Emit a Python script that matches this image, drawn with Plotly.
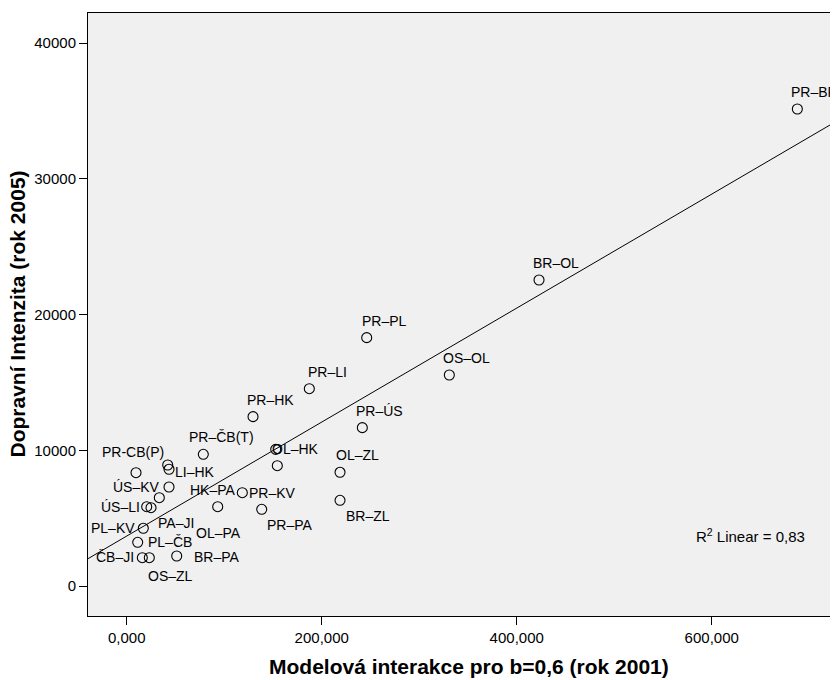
import numpy as np
import plotly.graph_objects as go

# ---- data ----
pair_labels = ["PR–BR", "BR–OL", "PR–PL", "OS–OL", "PR–LI", "PR–HK", "PR–ÚS",
               "PR–ČB(T)", "", "OL–HK", "OL–ZL", "BR–ZL", "PR-CB(P)", "",
               "LI–HK", "ÚS–KV", "OL–PA", "ÚS–LI", "PA–JI", "HK–PA", "PL–KV",
               "PL–ČB", "ČB–JI", "OS–ZL", "BR–PA", "PR–KV", "PR–PA"]
model_2001 = [687800, 422870, 246150, 330870, 187280, 129540, 241640,
              78560, 152820, 154460, 218770, 218770, 9540, 42050,
              43380, 43380, 33440, 20510, 24920, 93330, 17030,
              11280, 16000, 23180, 51280, 118560, 138460]
traffic_2005 = [35150, 22550, 18300, 15550, 14540, 12480, 11670,
                9705, 10070, 8865, 8380, 6315, 8350, 8917,
                8600, 7295, 6507, 5844, 5770, 5844, 4252,
                3220, 2085, 2085, 2211, 6875, 5652]

x_tickvals = [0, 200000, 400000, 600000]
x_ticktext = ["0,000", "200,000", "400,000", "600,000"]
y_tickvals = [0, 10000, 20000, 30000, 40000]
y_ticktext = ["0", "10000", "20000", "30000", "40000"]
r2_text = "R<sup>2</sup> Linear = 0,83"

# ---- label placement (pixel offsets of label centre from its point) ----
label_offsets = [(17.3, -16.7), (17, -16.7), (17.6, -16.7), (17.2, -16.7), (17.9, -17),
                 (17.5, -16.7), (17.4, -16.7), (17.9, -17), (0, 0), (18, -16.7),
                 (17.2, -17.3), (28, 15.4), (-3.2, -21), (0, 0), (26, 2.4),
                 (-32.5, 0), (58.7, 35), (-26.7, 0), (24.8, 15.6), (-5.2, -16.7),
                 (-30, 0), (32.3, -0.6), (-27.3, -0.7), (21.4, 18.3), (40.1, 0.7),
                 (30.2, 0), (28.1, 15.7)]

X_RANGE = [-39700, 729500]
Y_RANGE = [-2211, 42224]
FONT = "Liberation Sans, Arial, sans-serif"

x = np.array(model_2001, dtype=float)
y = np.array(traffic_2005, dtype=float)
slope, intercept = np.polyfit(x, y, 1)
fit_x = np.array(X_RANGE, dtype=float)
fit_y = intercept + slope * fit_x

fig = go.Figure()
fig.add_trace(go.Scatter(x=fit_x, y=fit_y, mode="lines",
                         line=dict(color="black", width=1), hoverinfo="skip",
                         showlegend=False))
fig.add_trace(go.Scatter(x=x, y=y, mode="markers", text=pair_labels,
                         marker=dict(symbol="circle-open", size=10, color="black",
                                     line=dict(width=1.1, color="black")),
                         showlegend=False))

annotations = []
for lab, xv, yv, (dx, dy) in zip(pair_labels, model_2001, traffic_2005, label_offsets):
    if not lab:
        continue
    annotations.append(dict(x=xv, y=yv, xref="x", yref="y", text=lab, showarrow=False,
                            xanchor="center", yanchor="middle", xshift=dx, yshift=-dy,
                            font=dict(family=FONT, size=14, color="black")))

annotations.append(dict(x=0.808, y=0.1332, xref="paper", yref="paper", text=r2_text,
                        showarrow=False, xanchor="left", yanchor="middle",
                        font=dict(family=FONT, size=15, color="black")))
annotations.append(dict(x=0.5085, y=0, xref="paper", yref="paper",
                        text="<b>Modelová interakce pro b=0,6 (rok 2001)</b>",
                        showarrow=False, xanchor="center", yanchor="middle", yshift=-50,
                        font=dict(family=FONT, size=21, color="black")))
annotations.append(dict(x=0, y=0.5, xref="paper", yref="paper",
                        text="<b>Dopravní Intenzita (rok 2005)</b>", textangle=-90,
                        showarrow=False, xanchor="center", yanchor="middle", xshift=-71,
                        font=dict(family=FONT, size=21, color="black")))

fig.update_layout(
    width=830, height=672,
    margin=dict(l=80, r=0, t=5, b=64),
    paper_bgcolor="white", plot_bgcolor="#f0f0f0",
    annotations=annotations,
    font=dict(family=FONT, color="black"),
)
fig.update_xaxes(range=X_RANGE, tickvals=x_tickvals, ticktext=x_ticktext,
                 showgrid=False, zeroline=False, showline=True, linecolor="black",
                 linewidth=1, mirror=True, ticks="outside", ticklen=8, tickwidth=1,
                 tickcolor="black", tickfont=dict(family=FONT, size=15, color="black"))
fig.update_yaxes(range=Y_RANGE, tickvals=y_tickvals, ticktext=y_ticktext,
                 showgrid=False, zeroline=False, showline=True, linecolor="black",
                 linewidth=1, ticks="outside", ticklen=8, tickwidth=1,
                 tickcolor="black", tickfont=dict(family=FONT, size=15, color="black"))

fig.write_html("out.html")
